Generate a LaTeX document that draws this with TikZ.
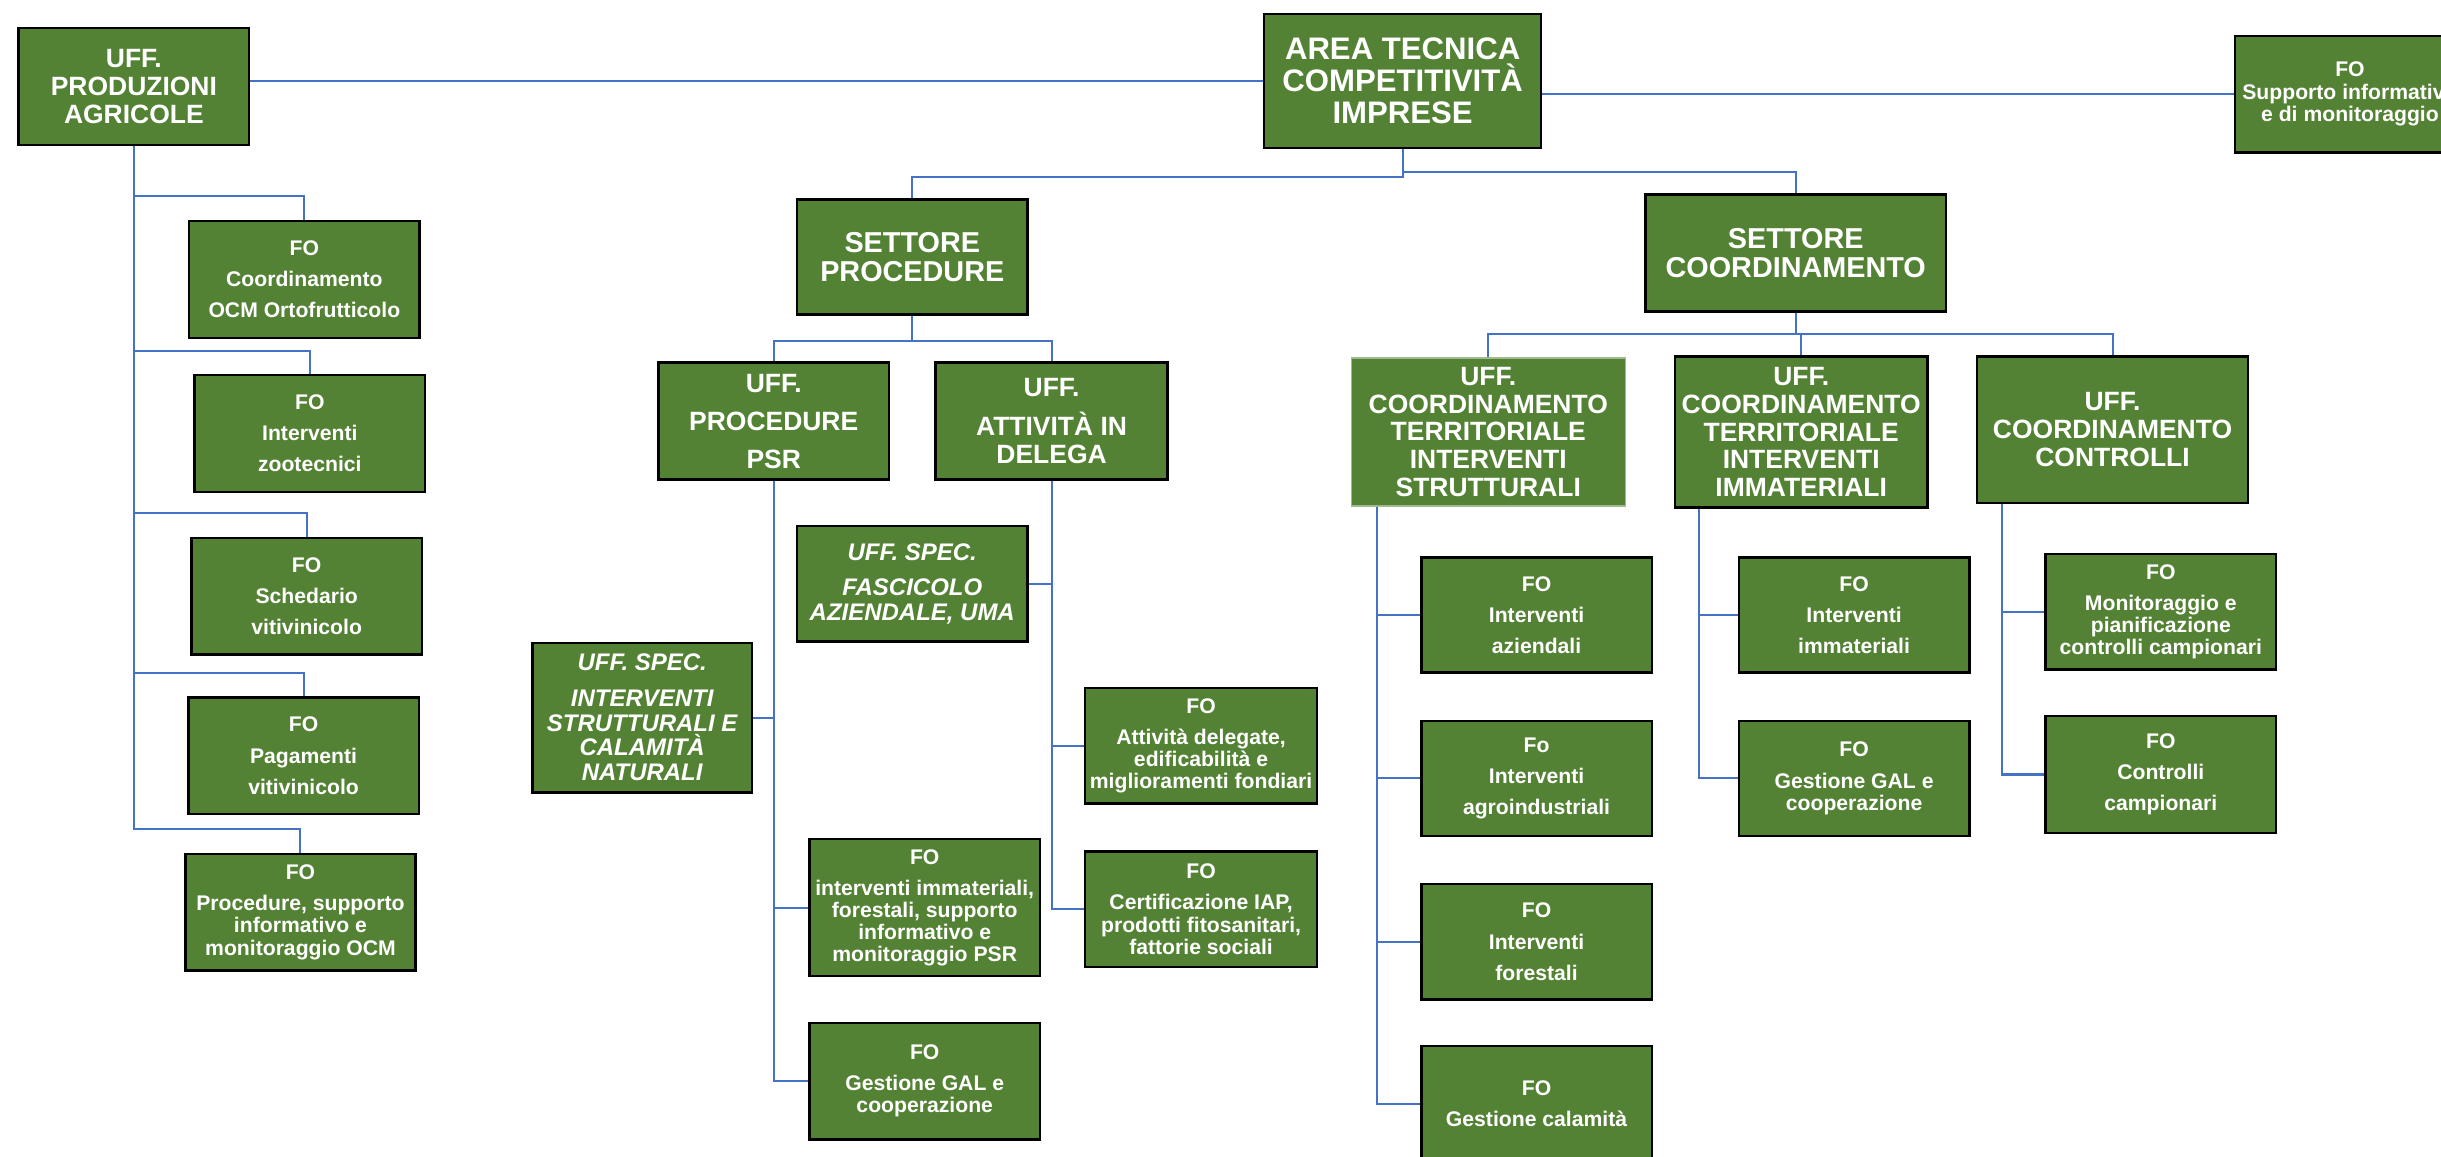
\documentclass[tikz,border=0pt]{standalone}
\usepackage{xcolor}
\usepackage{fontspec}
\setmainfont{Liberation Sans}
\definecolor{boxgreen}{RGB}{84,130,53}
\definecolor{linkblue}{RGB}{68,114,196}

\begin{document}
\begin{tikzpicture}[x=1pt, y=-1pt,
  box/.style={draw=black, line width=1.6pt, fill=boxgreen, text=white, align=center,
    inner sep=0pt, minimum width=148pt, minimum height=75pt},
  fo/.style={box, font=\fontsize{13.6}{14.2}\selectfont\bfseries},
  head/.style={box, font=\fontsize{17}{17.8}\selectfont\bfseries},
  settore/.style={box, font=\fontsize{18.5}{18.6}\selectfont\bfseries},
  spec/.style={box, font=\fontsize{15.4}{16}\selectfont\bfseries\itshape},
  link/.style={draw=linkblue, line width=1.3pt}]
\useasboundingbox (0,0) rectangle (1568,743);
\clip (0,0) rectangle (1568,743);

% Top level
\node[box, minimum width=178pt, minimum height=86pt, font=\fontsize{20}{20.7}\selectfont\bfseries]
  (area) at (901,52) {AREA TECNICA\\COMPETITIVITÀ\\IMPRESE};
\node[head] (prod) at (86,55.5) {UFF.\\PRODUZIONI\\AGRICOLE};
\node[fo, font=\fontsize{13.6}{14.5}\selectfont\bfseries] (supp) at (1509.5,60.5) {FO\\Supporto informativo\\e di monitoraggio};
\draw[link] (area.west) -- (area.west -| prod.east);
\draw[link] (area.east |- supp.west) -- (supp.west);

% Settori
\node[settore, minimum height=74pt] (sproc) at (586,165) {SETTORE\\PROCEDURE};
\node[settore, minimum width=193pt] (scoord) at (1153.5,162.5) {SETTORE\\COORDINAMENTO};
\draw[link] (area.south) -- ++(0,18) -| (sproc.north);
\draw[link] (area.south) -- ++(0,15) -| (scoord.north);

% Left branch
\node[fo] (fo1) at (195.5,179.5) {FO\\[5.8pt]Coordinamento\\[5.8pt]OCM Ortofrutticolo};
\node[fo] (fo2) at (199,278.5) {FO\\[5.8pt]Interventi\\[5.8pt]zootecnici};
\node[fo] (fo3) at (197,383) {FO\\[5.8pt]Schedario\\[5.8pt]vitivinicolo};
\node[fo] (fo4) at (195,485.5) {FO\\[5.8pt]Pagamenti\\[5.8pt]vitivinicolo};
\node[fo] (fo5) at (193,586) {FO\\[5.8pt]Procedure, supporto\\informativo e\\monitoraggio OCM};
\foreach \f in {fo1,fo2,fo3,fo4,fo5}
  \draw[link] (prod.south) |- ([yshift=15pt]\f.north) -- (\f.north);

% Settore procedure
\node[head] (psr) at (497,270.5) {UFF.\\[6.6pt]PROCEDURE\\[6.6pt]PSR};
\node[head, minimum width=149pt] (att) at (675.5,270.5) {UFF.\\[7.4pt]ATTIVITÀ IN\\DELEGA};
\draw[link] (sproc.south) -- ++(0,16) -| (psr.north);
\draw[link] (sproc.south) -- ++(0,16) -| (att.north);

\node[spec, minimum height=74pt] (fasc) at (586,375) {UFF. SPEC.\\[6.4pt]FASCICOLO\\AZIENDALE, UMA};
\node[spec, minimum width=141pt, minimum height=96pt] (istr) at (412.5,461)
  {UFF. SPEC.\\[6.6pt]INTERVENTI\\STRUTTURALI E\\CALAMITÀ\\NATURALI};
\node[fo, minimum width=149pt, minimum height=74pt] (fdel) at (771.5,479) {FO\\[5.8pt]Attività delegate,\\edificabilità e\\miglioramenti fondiari};
\node[fo, minimum height=88pt] (fimm) at (594,583) {FO\\[5.8pt]interventi immateriali,\\forestali, supporto\\informativo e\\monitoraggio PSR};
\node[fo, minimum width=149pt, minimum height=74pt] (fcert) at (771.5,584) {FO\\[5.8pt]Certificazione IAP,\\prodotti fitosanitari,\\fattorie sociali};
\node[fo] (fgal1) at (594,694.5) {FO\\[5.8pt]Gestione GAL e\\cooperazione};

\draw[link] (istr.east) -- (istr.east -| psr.south);
\draw[link] (psr.south) |- (fimm.west);
\draw[link] (psr.south) |- (fgal1.west);
\draw[link] (fasc.east) -- (fasc.east -| att.south);
\draw[link] (att.south) |- (fdel.west);
\draw[link] (att.south) |- (fcert.west);

% Settore coordinamento
\node[head, draw=boxgreen!55!white, line width=0.8pt, minimum width=176pt, minimum height=95pt] (ctstr) at (956,277.5)
  {UFF.\\COORDINAMENTO\\TERRITORIALE\\INTERVENTI\\STRUTTURALI};
\node[head, minimum width=162pt, minimum height=97pt] (ctimm) at (1157,277.5)
  {UFF.\\COORDINAMENTO\\TERRITORIALE\\INTERVENTI\\IMMATERIALI};
\node[head, minimum width=174pt, minimum height=94pt] (cctrl) at (1357,276) {UFF.\\COORDINAMENTO\\CONTROLLI};
\foreach \u in {ctstr,ctimm,cctrl}
  \draw[link] (scoord.south) -- ++(0,14) -| (\u.north);

\node[fo, minimum height=74pt] (fia) at (987,395) {FO\\[5.8pt]Interventi\\[5.8pt]aziendali};
\node[fo, minimum height=74pt] (fagro) at (987,500) {Fo\\[5.8pt]Interventi\\[5.8pt]agroindustriali};
\node[fo, minimum height=74pt] (ffor) at (987,605) {FO\\[5.8pt]Interventi\\[5.8pt]forestali};
\node[fo, minimum height=74pt] (fcal) at (987,709) {FO\\[5.8pt]Gestione calamità};
\foreach \f in {fia,fagro,ffor,fcal}
  \draw[link] ([xshift=17pt]ctstr.south west) |- (\f.west);

\node[fo, minimum height=74pt] (fii) at (1191,395) {FO\\[5.8pt]Interventi\\[5.8pt]immateriali};
\node[fo, minimum height=74pt] (fgal2) at (1191,500) {FO\\[5.8pt]Gestione GAL e\\cooperazione};
\foreach \f in {fii,fgal2}
  \draw[link] ([xshift=16pt]ctimm.south west) |- (\f.west);

\node[fo, minimum height=74pt] (fmon) at (1388,393) {FO\\[5.8pt]Monitoraggio e\\pianificazione\\controlli campionari};
\node[fo] (fcc) at (1388,497.5) {FO\\[5.8pt]Controlli\\[5.8pt]campionari};
\foreach \f in {fmon,fcc}
  \draw[link] ([xshift=17pt]cctrl.south west) |- (\f.west);
\end{tikzpicture}
\end{document}
